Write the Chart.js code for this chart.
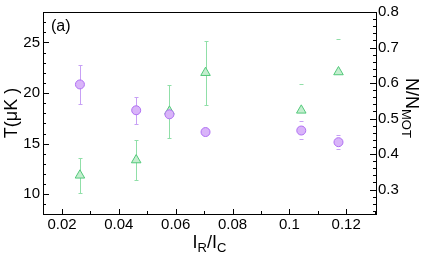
<!DOCTYPE html>
<html>
<head>
<meta charset="utf-8">
<script src="https://cdn.jsdelivr.net/npm/chart.js@4"></script>
<style>
  html, body { margin: 0; padding: 0; background: #fff; }
  #wrap { width: 424px; height: 256px; }
</style>
</head>
<body>
<div id="wrap"><canvas id="chart" width="424" height="256"></canvas></div>
<script>
// ratio I_R / I_C for each run
var ratio      = [0.0263, 0.0461, 0.0578, 0.0705, 0.1042, 0.1173];
// temperature (uK), left axis
var temp       = [20.85, 18.3, 17.9, 16.15, 16.3, 15.15];
var tempErrUp  = [1.9, 1.35, 0, 0, 0.9, 0.7];
var tempErrLo  = [1.9, 1.35, 0, 0, 0.85, 0.7];
// atom fraction N/N_MOT, right axis
var frac       = [0.34, 0.383, 0.52, 0.629, 0.523, 0.631];
var fracErrUp  = [0.05, 0.057, 0.075, 0.09, 0.075, 0.094];
var fracErrLo  = [0.05, 0.057, 0.075, 0.09, 0, 0];
// the last two runs only show the caps
var stemShown  = [true, true, true, true, false, false];

var xTicks     = [0.02, 0.04, 0.06, 0.08, 0.1, 0.12];
var tTicks     = [10, 15, 20, 25];
var fTicks     = [0.3, 0.4, 0.5, 0.6, 0.7, 0.8];

var FONT = '"Liberation Sans", Arial, Helvetica, sans-serif';

function pts(xs, ys) {
    return xs.map(function(x, i) { return { x: x, y: ys[i] }; });
}

/******************************************************************************
* Frame, inward ticks, error bars and the axis titles (they need subscripts).
******************************************************************************/
var decor = {
    id: 'decor',
    beforeDatasetsDraw: function(chart) {
        var ctx = chart.ctx;
        var sx = chart.scales.x;
        var bars = [
            { ys: temp, up: tempErrUp, lo: tempErrLo, scale: chart.scales.y,  color: '#c7a0f5' },
            { ys: frac, up: fracErrUp, lo: fracErrLo, scale: chart.scales.y2, color: '#90dfa8' }
        ];
        ctx.save();
        ctx.lineWidth = 1;
        bars.forEach(function(b) {
            ctx.strokeStyle = b.color;
            ratio.forEach(function(x, i) {
                var px = Math.round(sx.getPixelForValue(x)) + 0.5;
                var mid = b.scale.getPixelForValue(b.ys[i]);
                ctx.beginPath();
                if (b.up[i]) {
                    var top = Math.round(b.scale.getPixelForValue(b.ys[i] + b.up[i])) + 0.5;
                    if (stemShown[i]) { ctx.moveTo(px, mid); ctx.lineTo(px, top); }
                    ctx.moveTo(px - 2, top); ctx.lineTo(px + 2, top);
                }
                if (b.lo[i]) {
                    var bot = Math.round(b.scale.getPixelForValue(b.ys[i] - b.lo[i])) + 0.5;
                    if (stemShown[i]) { ctx.moveTo(px, mid); ctx.lineTo(px, bot); }
                    ctx.moveTo(px - 2, bot); ctx.lineTo(px + 2, bot);
                }
                ctx.stroke();
            });
        });
        ctx.restore();
    },
    afterDraw: function(chart) {
        var ctx = chart.ctx;
        var a = chart.chartArea;
        var sx = chart.scales.x, sy = chart.scales.y, sy2 = chart.scales.y2;
        ctx.save();
        ctx.strokeStyle = '#000';
        ctx.lineWidth = 1;
        ctx.strokeRect(Math.round(a.left) + 0.5, Math.round(a.top) + 0.5,
                       Math.round(a.right - a.left), Math.round(a.bottom - a.top));

        function tick(x1, y1, x2, y2) {
            ctx.beginPath(); ctx.moveTo(x1, y1); ctx.lineTo(x2, y2); ctx.stroke();
        }
        var v, p;
        // x ticks, every 0.01, long on 0.02
        for (v = 2; v <= 13; v++) {
            p = Math.round(sx.getPixelForValue(v / 100)) + 0.5;
            tick(p, a.bottom, p, a.bottom - (v % 2 === 0 ? 5 : 3));
        }
        // left ticks, every 1, long on 5
        for (v = 9; v <= 28; v++) {
            p = Math.round(sy.getPixelForValue(v)) + 0.5;
            tick(a.left, p, a.left + (v % 5 === 0 ? 6 : 3), p);
        }
        // right ticks, every 0.02, long on 0.1
        for (v = 24; v <= 80; v += 2) {
            p = Math.round(sy2.getPixelForValue(v / 100)) + 0.5;
            tick(a.right, p, a.right - (v % 10 === 0 ? 6 : 3), p);
        }

        ctx.fillStyle = '#000';
        ctx.textBaseline = 'alphabetic';

        // (a)
        ctx.font = '16px ' + FONT;
        ctx.textAlign = 'left';
        ctx.fillText('(a)', 51, 31);

        // x title  I_R / I_C
        var big = '18px ' + FONT, small = '13px ' + FONT;
        var parts = [['I', big, 0], ['R', small, 4], ['/I', big, 0], ['C', small, 4]];
        function width(list) {
            return list.reduce(function(s, q) { ctx.font = q[1]; return s + ctx.measureText(q[0]).width; }, 0);
        }
        function run(list, x, y) {
            list.forEach(function(q) {
                ctx.font = q[1];
                ctx.fillText(q[0], x, y + q[2]);
                x += ctx.measureText(q[0]).width;
            });
        }
        var cx = (a.left + a.right) / 2;
        run(parts, cx - width(parts) / 2, 248);

        // left title  T(uK )
        ctx.save();
        ctx.translate(17, (a.top + a.bottom) / 2);
        ctx.rotate(-Math.PI / 2);
        ctx.font = big;
        ctx.textAlign = 'center';
        ctx.fillText('T(\u03bcK )', 0, 0);
        ctx.restore();

        // right title  N/N_MOT
        var rp = [['N/N', big, 0], ['MOT', small, 4]];
        ctx.save();
        ctx.translate(406, 78);
        ctx.rotate(Math.PI / 2);
        run(rp, 0, 0);
        ctx.restore();

        ctx.restore();
    }
};

function fixTicks(list) {
    return function(scale) {
        scale.ticks = list.map(function(v) { return { value: v }; });
    };
}
function label(v) { return String(+v.toFixed(3)); }

new Chart(document.getElementById('chart'), {
    type: 'scatter',
    data: {
        datasets: [
            {
                label: 'T',
                data: pts(ratio, temp),
                yAxisID: 'y',
                pointStyle: 'circle',
                pointRadius: 4.5,
                borderWidth: 1,
                backgroundColor: '#d9b4f9',
                borderColor: '#b070f3'
            },
            {
                label: 'N/NMOT',
                data: pts(ratio, frac),
                yAxisID: 'y2',
                pointStyle: 'triangle',
                pointRadius: 5.5,
                borderWidth: 1,
                backgroundColor: '#c4eecf',
                borderColor: '#52c97a'
            }
        ]
    },
    options: {
        responsive: false,
        animation: false,
        layout: { padding: { top: 8, left: 0, right: 0, bottom: 0 } },
        plugins: { legend: { display: false }, tooltip: { enabled: false } },
        scales: {
            x: {
                type: 'linear',
                min: 0.0133, max: 0.1305,
                grid: { display: false, drawTicks: false },
                border: { display: false },
                afterBuildTicks: fixTicks(xTicks),
                afterFit: function(s) { s.height = 42; },
                ticks: { color: '#000', font: { family: FONT, size: 15 }, padding: 2,
                         maxRotation: 0, callback: label }
            },
            y: {
                position: 'left',
                min: 8.06, max: 28,
                grid: { display: false, drawTicks: false },
                border: { display: false },
                afterBuildTicks: fixTicks(tTicks),
                afterFit: function(s) { s.width = 43; },
                ticks: { color: '#000', font: { family: FONT, size: 15 }, padding: 3, callback: label }
            },
            y2: {
                position: 'right',
                min: 0.231, max: 0.8,
                grid: { display: false, drawTicks: false },
                border: { display: false },
                afterBuildTicks: fixTicks(fTicks),
                afterFit: function(s) { s.width = 48; },
                ticks: { color: '#000', font: { family: FONT, size: 15 }, padding: 2, callback: label }
            }
        }
    },
    plugins: [decor]
});
</script>
</body>
</html>
